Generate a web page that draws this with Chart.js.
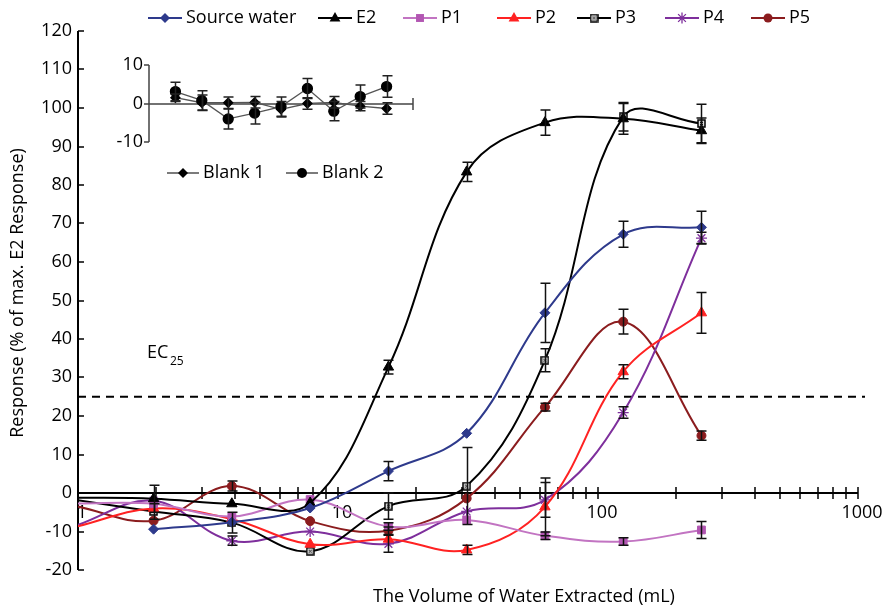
<!DOCTYPE html>
<html>
<head>
<meta charset="utf-8">
<script src="https://cdn.jsdelivr.net/npm/chart.js"></script>
<style>
  body { margin: 0; background: #fff; }
  #wrap { position: relative; width: 883px; height: 608px; }
  #main { position: absolute; left: 0; top: 0; }
  #inset { position: absolute; left: 100px; top: 40px; }
</style>
</head>
<body>
<div id="wrap">
  <canvas id="main" width="883" height="608"></canvas>
  <canvas id="inset" width="330" height="150"></canvas>
</div>
<script>
// volumes (mL), first point sits just left of the axis start
const volumes = [0.977, 1.953, 3.906, 7.813, 15.63, 31.25, 62.5, 125, 250];

const sourceWater = [null, -9.4, -7.6, -3.9, 5.7, 15.5, 46.8, 67.2, 69.0];
const e2 = [-1.2, -1.5, -2.8, -2.6, 32.7, 83.4, 96.2, 97.2, 94.1];
const p1 = [-2.7, -2.8, -6.1, -1.7, -8.7, -7.0, -11.1, -12.6, -9.6];
const p2 = [-8.8, -4.0, -6.8, -13.3, -12.0, -14.8, -3.6, 31.5, 46.8];
const p3 = [-1.8, -4.8, -7.7, -15.1, -3.4, 1.8, 34.5, 97.7, 96.0];
const p4 = [-8.5, -2.0, -12.4, -10.0, -13.2, -4.8, -1.8, 20.9, 66.2];
const p5 = [-3.4, -7.2, 1.8, -7.3, -9.8, -1.4, 22.3, 44.5, 14.9];

const sourceWaterErr = [null, null, null, null, 2.5, null, 7.7, 3.4, 4.2];
const e2Err = [null, 3.5, null, null, 1.8, 2.5, 3.3, 4.0, 3.3];
const p1Err = [null, null, null, null, 1.0, null, 1.0, 1.0, 2.2];
const p2Err = [null, null, null, null, null, 1.2, 7.5, 1.8, 5.3];
const p3Err = [null, 2.0, 2.7, null, 3.4, 10.0, 3.0, 3.7, 5.0];
const p4Err = [null, null, 1.2, null, 2.2, null, 4.5, 1.5, 1.5];
const p5Err = [null, null, 1.3, null, 1.0, null, 1.0, 3.2, 1.2];

const seriesNames = ['Source water', 'E2', 'P1', 'P2', 'P3', 'P4', 'P5'];
const yTicks = [120, 110, 100, 90, 80, 70, 60, 50, 40, 30, 20, 10, 0, -10, -20];
const xMajor = [1, 10, 100, 1000];
const ec25 = 25;

// inset: blanks
const insetX = [1, 2, 3, 4, 5, 6, 7, 8, 9];
const blank1 = [1.5, 0.2, 0.2, 0.3, -1.5, 0.0, 0.3, -0.7, -1.3];
const blank1Err = [1.0, 2.0, 1.5, 1.5, 2.0, 1.5, 1.5, 1.2, 1.5];
const blank2 = [3.1, 0.8, -4.0, -2.5, -0.8, 3.9, -2.0, 1.8, 4.4];
const blank2Err = [2.4, 2.5, 2.6, 2.8, 2.5, 2.6, 2.5, 3.0, 2.8];
const insetTicks = [10, 0, -10];

const FONT = '"Open Sans", "Liberation Sans", sans-serif';

// little square-with-x marker for P3
const p3Img = document.createElement('canvas');
p3Img.width = 9; p3Img.height = 9;
(function () {
  const c = p3Img.getContext('2d');
  c.fillStyle = '#ddd'; c.fillRect(1, 1, 7, 7);
  c.strokeStyle = '#000'; c.lineWidth = 1.5; c.strokeRect(1, 1, 7, 7);
  c.lineWidth = 1; c.beginPath();
  c.moveTo(3, 3); c.lineTo(6, 6); c.moveTo(6, 3); c.lineTo(3, 6); c.stroke();
})();

const styles = [
  { line: '#2E3A8C', fill: '#2E3A8C', point: 'rectRot', r: 5 },
  { line: '#000000', fill: '#000000', point: 'triangle', r: 6 },
  { line: '#C274C2', fill: '#B256B2', point: 'rect', r: 5.5 },
  { line: '#FF2222', fill: '#FF2222', point: 'triangle', r: 6 },
  { line: '#000000', fill: '#000000', point: p3Img, r: 4.5 },
  { line: '#7E2F9C', fill: '#7E2F9C', point: 'star', r: 5.5 },
  { line: '#8B1C1E', fill: '#8B1C1E', point: 'circle', r: 4.5 }
];

const allSeries = [sourceWater, e2, p1, p2, p3, p4, p5];
const allErr = [sourceWaterErr, e2Err, p1Err, p2Err, p3Err, p4Err, p5Err];

function drawMark(ctx, style, x, y, r, color) {
  ctx.save();
  ctx.fillStyle = color; ctx.strokeStyle = color; ctx.lineWidth = 1.3;
  ctx.beginPath();
  if (style === 'rectRot') {
    ctx.moveTo(x, y - r); ctx.lineTo(x + r, y); ctx.lineTo(x, y + r); ctx.lineTo(x - r, y); ctx.closePath(); ctx.fill();
  } else if (style === 'triangle') {
    ctx.moveTo(x, y - r); ctx.lineTo(x + r * 0.9, y + r * 0.6); ctx.lineTo(x - r * 0.9, y + r * 0.6); ctx.closePath(); ctx.fill();
  } else if (style === 'rect') {
    const s = r * 0.72; ctx.rect(x - s, y - s, 2 * s, 2 * s); ctx.fill();
  } else if (style === 'circle') {
    ctx.arc(x, y, r, 0, Math.PI * 2); ctx.fill();
  } else if (style === 'star') {
    for (let k = 0; k < 4; k++) {
      const a = k * Math.PI / 4;
      ctx.moveTo(x - r * Math.cos(a), y - r * Math.sin(a));
      ctx.lineTo(x + r * Math.cos(a), y + r * Math.sin(a));
    }
    ctx.stroke();
  } else if (style instanceof HTMLCanvasElement) {
    ctx.drawImage(style, x - style.width / 2, y - style.height / 2);
  }
  ctx.restore();
}

function errBars(ctx, xs, ys, vals, errs, color) {
  ctx.save();
  ctx.strokeStyle = color; ctx.lineWidth = 1.5;
  ctx.beginPath();
  vals.forEach((v, j) => {
    const e = errs[j];
    if (v === null || e === null || e === undefined) return;
    const px = Math.round(xs.getPixelForValue(j < 0 ? 0 : xs._vals[j])) + 0.5;
    const t = ys.getPixelForValue(v + e), b = ys.getPixelForValue(v - e);
    ctx.moveTo(px, t); ctx.lineTo(px, b);
    ctx.moveTo(px - 5, t); ctx.lineTo(px + 5, t);
    ctx.moveTo(px - 5, b); ctx.lineTo(px + 5, b);
  });
  ctx.stroke();
  ctx.restore();
}

const legendX = [148, 318, 403, 497, 577, 665, 751];

const mainDecor = {
  id: 'mainDecor',
  beforeDatasetsDraw(chart) {
    const { ctx, chartArea: a, scales: { x, y } } = chart;
    const y0 = Math.round(y.getPixelForValue(0));
    ctx.save();
    ctx.strokeStyle = '#000';
    ctx.fillStyle = '#000';
    // y axis
    ctx.lineWidth = 2;
    ctx.beginPath(); ctx.moveTo(a.left, a.top); ctx.lineTo(a.left, a.bottom); ctx.stroke();
    ctx.font = '18px ' + FONT;
    ctx.textAlign = 'right'; ctx.textBaseline = 'middle';
    ctx.lineWidth = 1.5;
    ctx.beginPath();
    yTicks.forEach(v => {
      const py = Math.round(y.getPixelForValue(v));
      ctx.moveTo(a.left, py); ctx.lineTo(a.left + 6, py);
      ctx.fillText(String(v), a.left - 6, py);
    });
    ctx.stroke();
    // x axis along zero
    ctx.lineWidth = 2;
    ctx.beginPath(); ctx.moveTo(a.left, y0); ctx.lineTo(a.right, y0); ctx.stroke();
    ctx.lineWidth = 1.5;
    ctx.beginPath();
    for (let d = 1; d < 1000; d *= 10) {
      for (let k = 2; k <= 10; k++) {
        const px = Math.round(x.getPixelForValue(d * k));
        ctx.moveTo(px, y0 - 6); ctx.lineTo(px, y0 + 6);
      }
    }
    ctx.stroke();
    ctx.textAlign = 'center'; ctx.textBaseline = 'middle';
    xMajor.forEach(v => {
      ctx.fillText(String(v), x.getPixelForValue(v) + 4, y0 + 20);
    });
    // EC25 line
    const ye = y.getPixelForValue(ec25);
    ctx.lineWidth = 2;
    ctx.setLineDash([8, 6]);
    ctx.beginPath(); ctx.moveTo(a.left, ye); ctx.lineTo(a.right + 7, ye); ctx.stroke();
    ctx.setLineDash([]);
    ctx.textAlign = 'left';
    ctx.fillText('EC', 147, 353);
    ctx.font = '12px ' + FONT;
    ctx.fillText('25', 170, 362);
    // axis titles
    ctx.font = '18px ' + FONT;
    ctx.textAlign = 'center';
    ctx.fillText('The Volume of Water Extracted (mL)', 524, 597);
    ctx.save();
    ctx.translate(18, 293); ctx.rotate(-Math.PI / 2);
    ctx.fillText('Response (% of max. E2 Response)', 0, 0);
    ctx.restore();
    // legend
    const ly = 18;
    seriesNames.forEach((name, i) => {
      const lx = legendX[i], st = styles[i];
      ctx.strokeStyle = st.line; ctx.lineWidth = 2;
      ctx.beginPath(); ctx.moveTo(lx, ly); ctx.lineTo(lx + 34, ly); ctx.stroke();
      drawMark(ctx, st.point, lx + 17, ly, st.r, st.fill);
      ctx.fillStyle = '#000'; ctx.textAlign = 'left';
      ctx.fillText(name, lx + 38, ly);
    });
    ctx.restore();
  },
  afterDatasetsDraw(chart) {
    const { ctx, scales: { x, y } } = chart;
    x._vals = volumes;
    allSeries.forEach((vals, i) => errBars(ctx, x, y, vals, allErr[i], '#111'));
  }
};

const datasets = allSeries.map((vals, i) => ({
  label: seriesNames[i],
  data: vals.map((v, j) => ({ x: volumes[j], y: v })),
  borderColor: styles[i].line,
  backgroundColor: styles[i].fill,
  pointBorderColor: styles[i].fill,
  pointBackgroundColor: styles[i].fill,
  pointStyle: styles[i].point,
  pointRadius: vals.map((v, j) => j === 0 ? 0 : styles[i].r),
  pointBorderWidth: styles[i].point === 'star' ? 1.3 : 1,
  borderWidth: 2,
  tension: 0.38,
  spanGaps: false
}));

new Chart(document.getElementById('main'), {
  type: 'line',
  data: { datasets: datasets },
  options: {
    responsive: false,
    animation: false,
    layout: { padding: { left: 78, right: 25, top: 31, bottom: 38 } },
    plugins: { legend: { display: false }, tooltip: { enabled: false } },
    scales: {
      x: { type: 'logarithmic', min: 1, max: 1000, display: false },
      y: { type: 'linear', min: -20, max: 120, display: false }
    }
  },
  plugins: [mainDecor]
});

// ---- inset chart ----
const insetDecor = {
  id: 'insetDecor',
  beforeDatasetsDraw(chart) {
    const { ctx, chartArea: a, scales: { x, y } } = chart;
    const y0 = Math.round(y.getPixelForValue(0));
    ctx.save();
    ctx.strokeStyle = '#444'; ctx.fillStyle = '#000';
    ctx.lineWidth = 1.5;
    ctx.beginPath();
    ctx.moveTo(a.left, a.top); ctx.lineTo(a.left, a.bottom);
    ctx.moveTo(a.left, y0); ctx.lineTo(a.right, y0);
    ctx.moveTo(a.right, y0 - 6); ctx.lineTo(a.right, y0 + 6);
    ctx.stroke();
    ctx.font = '18px ' + FONT;
    ctx.textAlign = 'right'; ctx.textBaseline = 'middle';
    ctx.beginPath();
    insetTicks.forEach(v => {
      const py = Math.round(y.getPixelForValue(v));
      ctx.moveTo(a.left - 5, py); ctx.lineTo(a.left, py);
      ctx.fillText(String(v), a.left - 6, py);
    });
    ctx.stroke();
    // legend
    const ly = 133;
    [['Blank 1', 'rectRot', 5, 67], ['Blank 2', 'circle', 5, 186]].forEach(([name, st, r, lx]) => {
      ctx.strokeStyle = '#333'; ctx.lineWidth = 1.3;
      ctx.beginPath(); ctx.moveTo(lx, ly); ctx.lineTo(lx + 32, ly); ctx.stroke();
      drawMark(ctx, st, lx + 16, ly, r, '#000');
      ctx.fillStyle = '#000'; ctx.textAlign = 'left';
      ctx.fillText(name, lx + 36, ly);
    });
    ctx.restore();
  },
  afterDatasetsDraw(chart) {
    const { ctx, scales: { x, y } } = chart;
    x._vals = insetX;
    errBars(ctx, x, y, blank1, blank1Err, '#222');
    errBars(ctx, x, y, blank2, blank2Err, '#222');
  }
};

new Chart(document.getElementById('inset'), {
  type: 'line',
  data: {
    datasets: [
      { label: 'Blank 2', data: blank2.map((v, j) => ({ x: insetX[j], y: v })), order: 0,
        borderColor: '#555', borderWidth: 1.3, pointStyle: 'circle', pointRadius: 5,
        pointBackgroundColor: '#000', pointBorderColor: '#000', tension: 0 },
      { label: 'Blank 1', data: blank1.map((v, j) => ({ x: insetX[j], y: v })), order: 1,
        borderColor: '#555', borderWidth: 1.3, pointStyle: 'rectRot', pointRadius: 4.5,
        pointBackgroundColor: '#000', pointBorderColor: '#000', tension: 0 }
    ]
  },
  options: {
    responsive: false,
    animation: false,
    layout: { padding: { left: 49, right: 17, top: 25, bottom: 48 } },
    plugins: { legend: { display: false }, tooltip: { enabled: false } },
    scales: {
      x: { type: 'linear', min: 0, max: 10, display: false },
      y: { type: 'linear', min: -10, max: 10, display: false }
    }
  },
  plugins: [insetDecor]
});
</script>
</body>
</html>
